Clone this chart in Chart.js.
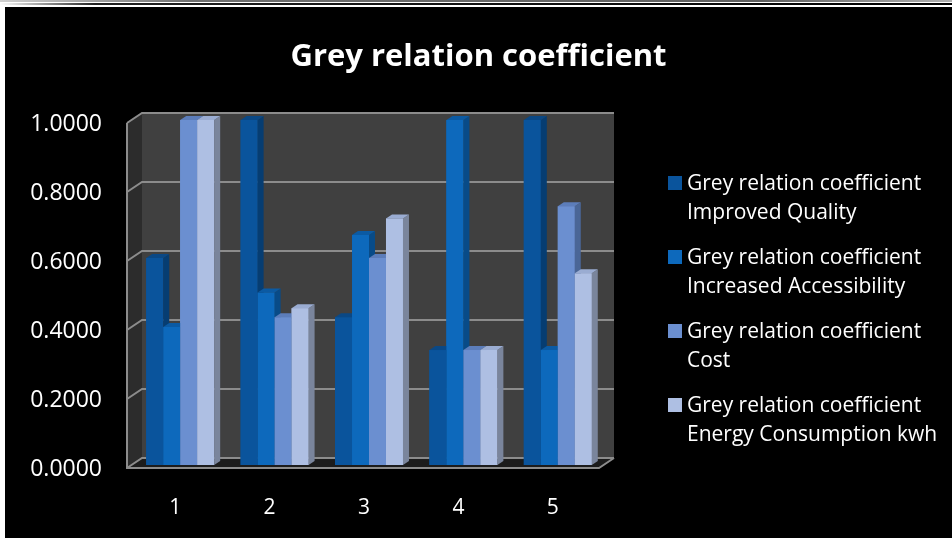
<!DOCTYPE html>
<html lang="en">
<head>
    <meta charset="UTF-8">
    <title>Grey relation coefficient</title>
    <style>
        body {
            margin: 0;
            background: #ffffff;
            width: 952px;
            height: 538px;
            overflow: hidden;
            position: relative;
            font-family: "Open Sans", Lato, sans-serif;
        }
        .topline1 {
            position: absolute; left: 0; top: 0; width: 952px; height: 2px;
            background: linear-gradient(to right, #d0d0d0, #707070 20%, #606060 80%, #b0b0b0);
        }
        .topline2 {
            position: absolute; left: 0; top: 3px; width: 952px; height: 2px;
            background: linear-gradient(to right, #ffffff, #202020 10%, #000000);
        }
        .box {
            position: absolute;
            left: 5px; top: 7px;
            width: 947px; height: 531px;
            background: #000000;
        }
        canvas { position: absolute; left: 0; top: 0; }
        h1 {
            position: absolute;
            left: 0; top: 27px;
            width: 947px;
            margin: 0;
            text-align: center;
            color: #ffffff;
            font-size: 31px;
            font-weight: bold;
            line-height: 40px;
        }
        #legend {
            position: absolute;
            left: 663px; top: 161px;
            color: #ffffff;
            font-size: 21px;
            line-height: 29px;
        }
        #legend .item { position: relative; padding-left: 19px; height: 74px; white-space: nowrap; }
        #legend .sw {
            position: absolute; left: 0; top: 8px;
            width: 14px; height: 14px;
        }
    </style>
    <script src="https://cdn.jsdelivr.net/npm/chart.js"></script>
</head>
<body>
    <div class="topline1"></div>
    <div class="topline2"></div>
    <div class="box">
        <canvas id="barChart" width="947" height="531"></canvas>
        <h1>Grey relation coefficient</h1>
        <div id="legend"></div>
    </div>

    <script>
        // data
        const categories = ['1', '2', '3', '4', '5'];
        const seriesNames = [
            ['Grey relation coefficient', 'Improved Quality'],
            ['Grey relation coefficient', 'Increased Accessibility'],
            ['Grey relation coefficient', 'Cost'],
            ['Grey relation coefficient', 'Energy Consumption kwh']
        ];
        const improvedQuality = [0.6000, 1.0000, 0.4286, 0.3333, 1.0000];
        const increasedAccessibility = [0.4000, 0.5000, 0.6667, 1.0000, 0.3333];
        const cost = [1.0000, 0.4286, 0.6000, 0.3333, 0.7500];
        const energyConsumption = [1.0000, 0.4545, 0.7143, 0.3333, 0.5556];
        const yTicks = [0, 0.2, 0.4, 0.6, 0.8, 1.0];

        // front, side, top colours per series
        const colors = [
            ['#0A549C', '#063D72', '#0A4885'],
            ['#0D69BC', '#084B88', '#0B5AA3'],
            ['#6B8FD0', '#4A6697', '#5C7DBA'],
            ['#AEBFE3', '#7A859C', '#9AACD2']
        ];
        const allValues = [improvedQuality, increasedAccessibility, cost, energyConsumption];

        // 3d box behind the bars, and depth faces on the bars
        const wallPlugin = {
            id: 'walls',
            beforeDatasetsDraw(chart) {
                const ctx = chart.ctx;
                const area = chart.chartArea;
                const y = chart.scales.y;
                const fl = area.left - 6, fr = area.right - 6;   // front plane
                const dx = 15, dy = -10;                          // depth of the box
                const fy = v => y.getPixelForValue(v) + 3;
                ctx.save();
                // back wall
                ctx.fillStyle = '#404040';
                ctx.fillRect(fl + dx, fy(1) + dy, fr - fl, fy(0) - fy(1));
                // left wall
                ctx.fillStyle = '#2c2c2c';
                ctx.beginPath();
                ctx.moveTo(fl, fy(1)); ctx.lineTo(fl + dx, fy(1) + dy);
                ctx.lineTo(fl + dx, fy(0) + dy); ctx.lineTo(fl, fy(0));
                ctx.closePath(); ctx.fill();
                // floor
                ctx.fillStyle = '#1c1c1c';
                ctx.beginPath();
                ctx.moveTo(fl, fy(0)); ctx.lineTo(fl + dx, fy(0) + dy);
                ctx.lineTo(fr + dx, fy(0) + dy); ctx.lineTo(fr, fy(0));
                ctx.closePath(); ctx.fill();
                // grid lines
                ctx.strokeStyle = '#8c8c8c';
                ctx.lineWidth = 2;
                yTicks.forEach(v => {
                    ctx.beginPath();
                    ctx.moveTo(fl, fy(v));
                    ctx.lineTo(fl + dx, fy(v) + dy);
                    ctx.lineTo(fr + dx, fy(v) + dy);
                    ctx.stroke();
                });
                // edges
                ctx.beginPath();
                ctx.moveTo(fl, fy(1)); ctx.lineTo(fl, fy(0)); ctx.lineTo(fr, fy(0));
                ctx.lineTo(fr + dx, fy(0) + dy);
                ctx.stroke();
                ctx.restore();
            },
            afterDatasetsDraw(chart) {
                // redraw bars left to right so each front face hides the
                // side face of the bar before it
                const ctx = chart.ctx;
                const bd = 6, bdy = 4;
                ctx.save();
                categories.forEach((c, j) => {
                    allValues.forEach((vals, i) => {
                        const bar = chart.getDatasetMeta(i).data[j];
                        const p = bar.getProps(['x', 'y', 'base', 'width'], true);
                        const l = p.x - p.width / 2, r = p.x + p.width / 2;
                        const col = colors[i];
                        ctx.fillStyle = col[0];
                        ctx.fillRect(l, p.y, r - l, p.base - p.y);
                        ctx.fillStyle = col[1];
                        ctx.beginPath();
                        ctx.moveTo(r, p.y); ctx.lineTo(r + bd, p.y - bdy);
                        ctx.lineTo(r + bd, p.base - bdy); ctx.lineTo(r, p.base);
                        ctx.closePath(); ctx.fill();
                        ctx.fillStyle = col[2];
                        ctx.beginPath();
                        ctx.moveTo(l, p.y); ctx.lineTo(l + bd, p.y - bdy);
                        ctx.lineTo(r + bd, p.y - bdy); ctx.lineTo(r, p.y);
                        ctx.closePath(); ctx.fill();
                    });
                });
                ctx.restore();
            }
        };

        const ctx = document.getElementById('barChart').getContext('2d');
        const barChart = new Chart(ctx, {
            type: 'bar',
            data: {
                labels: categories,
                datasets: allValues.map((vals, i) => ({
                    label: seriesNames[i].join(' '),
                    data: vals,
                    backgroundColor: colors[i][0],
                    borderWidth: 0,
                    barPercentage: 1.0,
                    categoryPercentage: 0.72
                }))
            },
            options: {
                responsive: false,
                animation: false,
                events: [],
                layout: { padding: { left: 0, right: 347, top: 113, bottom: 23 } },
                plugins: {
                    legend: { display: false },
                    title: { display: false },
                    tooltip: { enabled: false }
                },
                scales: {
                    x: {
                        grid: { display: false, drawTicks: false },
                        border: { display: false },
                        ticks: {
                            color: '#ffffff',
                            font: { family: 'Open Sans', size: 21 },
                            padding: 30,
                            labelOffset: -5
                        },
                        afterFit: s => { s.height = 50; }
                    },
                    y: {
                        min: 0,
                        max: 1,
                        grid: { display: false, drawTicks: false },
                        border: { display: false },
                        ticks: {
                            stepSize: 0.2,
                            color: '#ffffff',
                            font: { family: 'Open Sans', size: 23 },
                            padding: 31,
                            labelOffset: 4,
                            callback: v => v.toFixed(4)
                        },
                        afterFit: s => { s.width = 128; }
                    }
                }
            },
            plugins: [wallPlugin]
        });

        // html legend built from the series names
        const legend = document.getElementById('legend');
        seriesNames.forEach((name, i) => {
            const item = document.createElement('div');
            item.className = 'item';
            item.innerHTML = '<span class="sw" style="background:' + colors[i][0] + '"></span>' +
                name[0] + '<br>' + name[1];
            legend.appendChild(item);
        });
    </script>
</body>
</html>
